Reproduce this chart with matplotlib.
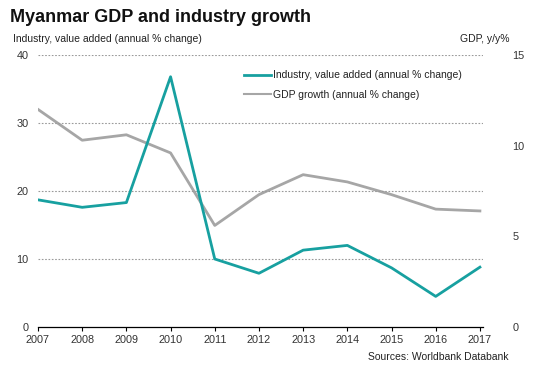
import matplotlib
matplotlib.use("Agg")
import matplotlib.pyplot as plt
from matplotlib.lines import Line2D

years = [2007, 2008, 2009, 2010, 2011, 2012, 2013, 2014, 2015, 2016, 2017]
industry = [18.7, 17.6, 18.3, 36.8, 10.0, 7.9, 11.3, 12.0, 8.7, 4.5, 8.8]
gdp = [12.0, 10.3, 10.6, 9.6, 5.6, 7.3, 8.4, 8.0, 7.3, 6.5, 6.4]
left_ticks = [0, 10, 20, 30, 40]
right_ticks = [0, 5, 10, 15]

teal = "#17a0a0"
grey = "#a6a6a6"
plt.rcParams['font.family'] = ['Liberation Sans', 'DejaVu Sans']

W, H = 542, 383
fig = plt.figure(figsize=(W / 100, H / 100), dpi=100)
ax = fig.add_axes([38 / W, 1 - 327 / H, (483 - 38) / W, (327 - 55) / H])
ax2 = ax.twinx()

ax.set_xlim(2007, 2017.07)
ax.set_ylim(0, 40)
ax2.set_ylim(0, 15)

ax.plot(years, industry, color=teal, lw=2.0, zorder=3)
ax2.plot(years, gdp, color=grey, lw=2.0, zorder=2)
ax.set_zorder(ax2.get_zorder() + 1)
ax.patch.set_visible(False)

for v in left_ticks[1:]:
    ax.axhline(v, color="#9a9a9a", lw=0.8, ls=(0, (1.5, 1.5)), zorder=1)

for a in (ax, ax2):
    for s in ("top", "left", "right"):
        a.spines[s].set_visible(False)
ax2.spines["bottom"].set_visible(False)
ax.spines["bottom"].set_color("black")
ax.spines["bottom"].set_linewidth(0.9)

ax.set_xticks(years)
ax.set_xticklabels([str(y) for y in years], fontsize=7.8, color="#333333")
ax.tick_params(axis="x", length=3, width=0.8, direction="out", pad=3)
ax.set_yticks(left_ticks)
ax.set_yticklabels([str(v) for v in left_ticks], fontsize=7.8, color="#333333")
ax.tick_params(axis="y", length=0, pad=7)
ax2.set_yticks(right_ticks)
ax2.set_yticklabels([str(v) for v in right_ticks], fontsize=7.8, color="#333333")
ax2.tick_params(axis="y", length=0, pad=21)

fig.text(10 / W, 1 - 18 / H, "Myanmar GDP and industry growth", fontsize=13,
         fontweight="bold", va="center", ha="left", color="#111111")
fig.text(13 / W, 1 - 39 / H, "Industry, value added (annual % change)", fontsize=7.5,
         va="center", ha="left", color="#222222")
fig.text(509 / W, 1 - 39 / H, "GDP, y/y%", fontsize=7.5, va="center", ha="right",
         color="#222222")
fig.text(509 / W, 1 - 357 / H, "Sources: Worldbank Databank", fontsize=7.5,
         va="center", ha="right", color="#222222")

handles = [Line2D([], [], color=teal, lw=2.0), Line2D([], [], color=grey, lw=1.5)]
ax.legend(handles, ["Industry, value added (annual % change)", "GDP growth (annual % change)"],
          loc="upper left", bbox_to_anchor=((240 - 38) / (483 - 38), 1 - (66 - 55) / 272),
          frameon=False, fontsize=7.5, handlelength=2.6, handletextpad=0.2,
          labelspacing=0.95, borderaxespad=0, labelcolor="#222222")

fig.savefig("out.png", dpi=100)
